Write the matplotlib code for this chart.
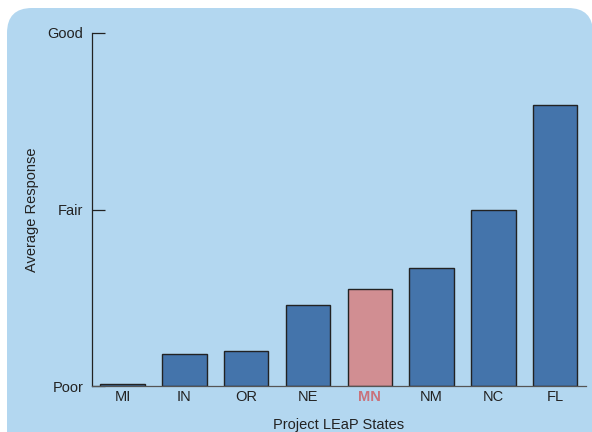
import matplotlib.pyplot as plt
from matplotlib.patches import FancyBboxPatch
import matplotlib
matplotlib.rcParams['font.family'] = ['Liberation Sans', 'DejaVu Sans']
matplotlib.rcParams['font.size'] = 10.5

states = ['MI', 'IN', 'OR', 'NE', 'MN', 'NM', 'NC', 'FL']
avg_response = [0.015, 0.18, 0.2, 0.46, 0.55, 0.67, 1.0, 1.59]
highlight = 'MN'
level_labels = ['Poor', 'Fair', 'Good']
level_values = [0, 1, 2]

BG = '#b3d7f0'
BAR = '#4474ab'
HI = '#d18e92'
HI_TXT = '#c9727b'

fig = plt.figure(figsize=(5.92, 4.32), dpi=100)
fig.patch.set_facecolor('white')
# panel de fundo arredondado
fig.patches.append(FancyBboxPatch((0.07, -0.3), 5.86, 4.54,
                                  boxstyle="round,pad=0,rounding_size=0.25",
                                  fc=BG, ec='none', transform=fig.dpi_scale_trans,
                                  figure=fig, zorder=-5))

ax = fig.add_axes([0.155, 0.106, 0.835, 0.818])
ax.set_facecolor('none')
cols = [HI if s == highlight else BAR for s in states]
ax.bar(range(len(states)), avg_response, width=0.72, color=cols,
       edgecolor='#222222', lw=1.0, zorder=2)

ax.set_xlim(-0.5, len(states) - 0.5)
ax.set_ylim(0, 2)
ax.set_yticks(level_values)
ax.set_yticklabels(level_labels)
ax.set_xticks(range(len(states)))
ax.set_xticklabels(states)

ax.tick_params(axis='y', direction='in', length=9, width=0.9, pad=6, colors='#222222')
ax.tick_params(axis='x', length=0, pad=3, colors='#222222')
for lbl in ax.get_xticklabels():
    if lbl.get_text() == highlight:
        lbl.set_color(HI_TXT); lbl.set_fontweight('bold')
for s in ['top', 'right']:
    ax.spines[s].set_visible(False)
ax.spines['left'].set_color('#222222')
ax.spines['bottom'].set_color('#555555')
ax.spines['left'].set_linewidth(0.9)
ax.spines['bottom'].set_linewidth(0.9)

ax.set_xlabel('Project LEaP States', labelpad=10, color='#222222')
ax.set_ylabel('Average Response', labelpad=6, color='#222222')

fig.savefig('out.png', dpi=100)
